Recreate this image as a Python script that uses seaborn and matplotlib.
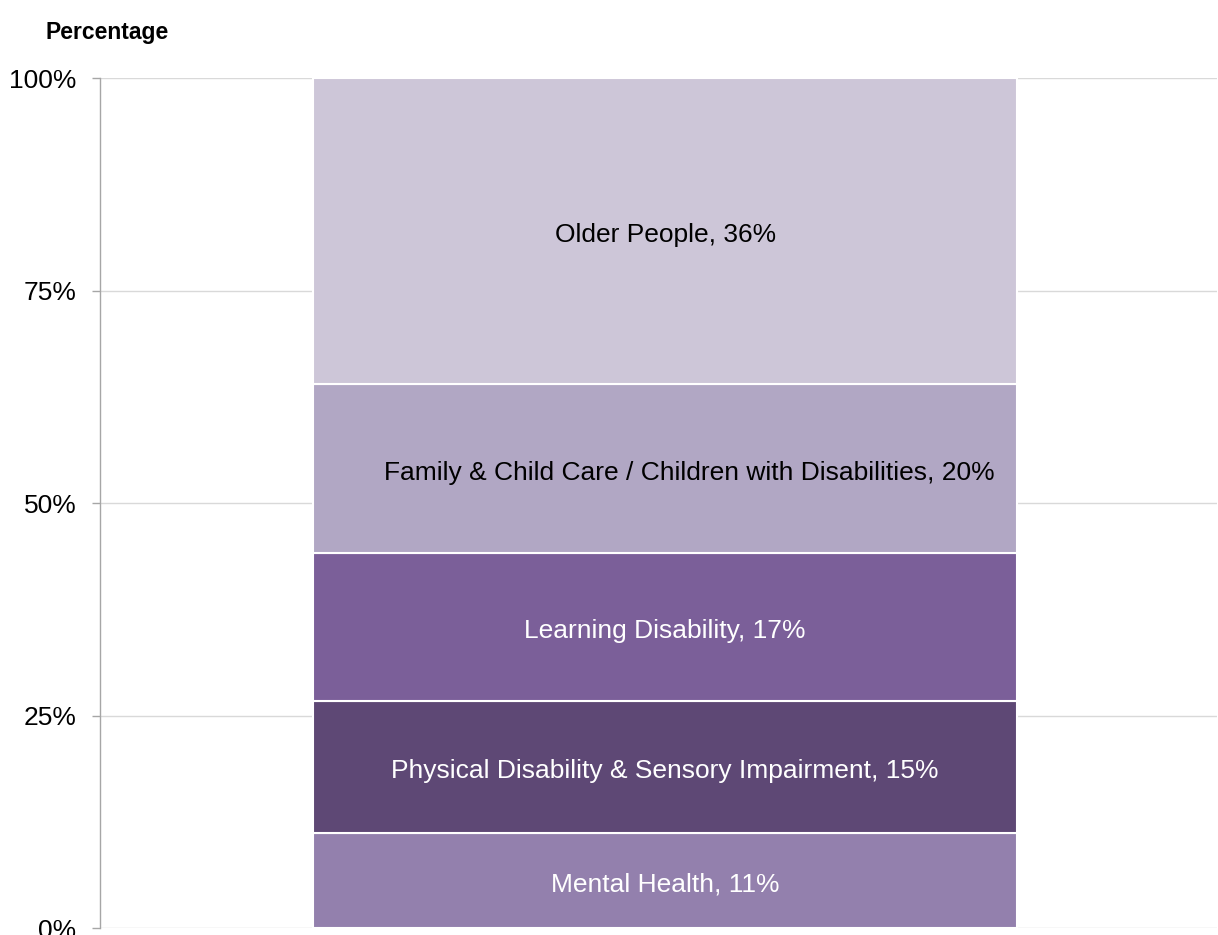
import numpy as np
import pandas as pd
import matplotlib
matplotlib.use('Agg')
import matplotlib.pyplot as plt
import seaborn as sns

# data, bottom to top
categories = ['Mental Health',
              'Physical Disability & Sensory Impairment',
              'Learning Disability',
              'Family & Child Care / Children with Disabilities',
              'Older People']
values = [11.2, 15.5, 17.4, 19.9, 36.0]
shown = [11, 15, 17, 20, 36]
colours = ['#9380AD', '#5E4875', '#7B5F99', '#B1A7C4', '#CDC6D8']
text_colours = ['white', 'white', 'white', 'black', 'black']
yticks = [0, 25, 50, 75, 100]
ytick_labels = ['0%', '25%', '50%', '75%', '100%']

sns.set_style('white')
plt.rcParams['font.family'] = ['Liberation Sans', 'DejaVu Sans']

fig = plt.figure(figsize=(12.18, 9.35), dpi=100)
ax = fig.add_axes([100 / 1218, 1 - 928 / 935, 1117 / 1218, 850 / 935])

bottom = 0
for i, v in enumerate(values):
    sns.barplot(x=['total'], y=[v], bottom=bottom, color=colours[i], width=0.63,
                edgecolor='white', linewidth=1.5, saturation=1, ax=ax)
    # the long family label sits a little right of centre in the original
    xpos = 0.022 if i == 3 else 0
    ax.annotate('{}, {}%'.format(categories[i], shown[i]), (xpos, bottom + v / 2),
                xytext=(0, -3), textcoords='offset points',
                ha='center', va='center', fontsize=19, color=text_colours[i])
    bottom += v

ax.set_xlim(-0.506, 0.494)
ax.set_ylim(0, 100)
ax.set_yticks(yticks)
ax.set_yticklabels(ytick_labels)
ax.set_xticks([])
ax.set_xlabel('')
ax.set_ylabel('')
ax.tick_params(axis='y', labelsize=19, labelcolor='black', length=6, width=1,
               color='#A6A6A6', pad=11, left=True)
ax.yaxis.grid(True, color='#D9D9D9', linewidth=1)
ax.set_axisbelow(True)
for s in ['top', 'right', 'bottom']:
    ax.spines[s].set_visible(False)
ax.spines['left'].set_color('#A6A6A6')
ax.spines['left'].set_linewidth(1)

fig.text(45 / 1218, 1 - 33 / 935, 'Percentage', fontsize=16.5, fontweight='bold',
         color='black', ha='left', va='center')

fig.savefig('out.png', dpi=100)
